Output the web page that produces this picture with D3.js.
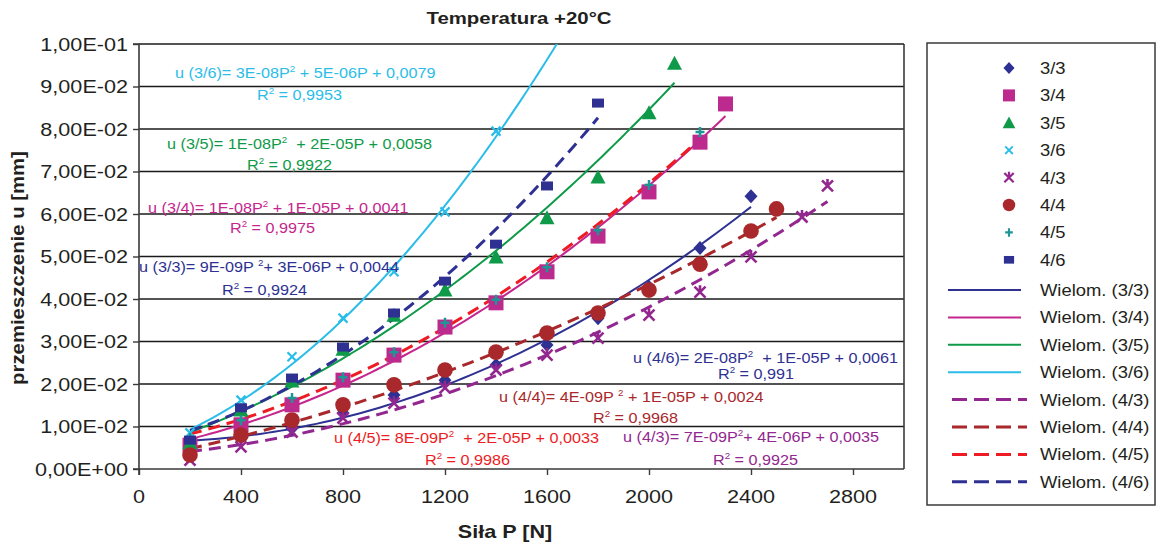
<!DOCTYPE html>
<html><head><meta charset="utf-8">
<script src="https://cdn.jsdelivr.net/npm/d3@7"></script>
<style>
body{margin:0;background:#fff}
text{font-family:"Liberation Sans",Arial,Helvetica,sans-serif;white-space:pre}
</style>
</head><body>
<svg id="c" width="1157" height="542"></svg>
<script>
// ---------- DATA ----------
const seriesNames = ["3/3","3/4","3/5","3/6","4/3","4/4","4/5","4/6"];
const P33 = [200,400,600,800,1000,1200,1400,1600,1800,2000,2200,2400];
const u33 = [0.0054,0.0075,0.0096,0.0132,0.0174,0.0209,0.0245,0.0292,0.0355,0.0428,0.0520,0.0642];
const P34 = [200,400,600,800,1000,1200,1400,1600,1800,2000,2200,2300];
const u34 = [0.0056,0.0104,0.0151,0.0209,0.0268,0.0334,0.0391,0.0464,0.0548,0.0652,0.0769,0.0859];
const P35 = [200,400,600,800,1000,1200,1400,1600,1800,2000,2100];
const u35 = [0.0061,0.0139,0.0207,0.0282,0.0362,0.0421,0.0499,0.0591,0.0687,0.0838,0.0955];
const P36 = [200,400,600,800,1000,1200,1400];
const u36 = [0.0085,0.0162,0.0264,0.0355,0.0464,0.0605,0.0795];
const P43 = [200,400,600,800,1000,1200,1400,1600,1800,2000,2200,2400,2600,2700];
const u43 = [0.0021,0.0052,0.0087,0.0120,0.0155,0.0191,0.0233,0.0268,0.0308,0.0362,0.0416,0.0499,0.0593,0.0666];
const P44 = [200,400,600,800,1000,1200,1400,1600,1800,2000,2200,2400,2500];
const u44 = [0.0033,0.0080,0.0115,0.0151,0.0198,0.0233,0.0275,0.0320,0.0367,0.0421,0.0482,0.0560,0.0612];
const P45 = [200,400,600,800,1000,1200,1400,1600,1800,2000,2200];
const u45 = [0.0073,0.0115,0.0167,0.0216,0.0275,0.0344,0.0398,0.0475,0.0562,0.0668,0.0793];
const P46 = [200,400,600,800,1000,1200,1400,1600,1800];
const u46 = [0.0068,0.0144,0.0214,0.0287,0.0367,0.0442,0.0529,0.0666,0.0861];
// trendline range end (Excel trendline forecast), in N
const trendEnd = [2400,2300,2100,1680,2700,2500,2200,1800];

const xTicks = [0,400,800,1200,1600,2000,2400,2800];
const yTicks = [0,0.01,0.02,0.03,0.04,0.05,0.06,0.07,0.08,0.09,0.10];
const yTickLabels = ["0,00E+00","1,00E-02","2,00E-02","3,00E-02","4,00E-02","5,00E-02","6,00E-02","7,00E-02","8,00E-02","9,00E-02","1,00E-01"];

const eqPre  = ["u (3/3)= 9E-09P ","u (3/4)= 1E-08P","u (3/5)= 1E-08P","u (3/6)= 3E-08P","u (4/3)= 7E-09P","u (4/4)= 4E-09P ","u (4/5)= 8E-09P","u (4/6)= 2E-08P"];
const eqPost = ["+ 3E-06P + 0,0044"," + 1E-05P + 0,0041","  + 2E-05P + 0,0058"," + 5E-06P + 0,0079","+ 4E-06P + 0,0035"," + 1E-05P + 0,0024","  + 2E-05P + 0,0033","  + 1E-05P + 0,0061"];
const r2Vals = ["0,9924","0,9975","0,9922","0,9953","0,9925","0,9968","0,9986","0,991"];

const title = "Temperatura +20°C";
const xTitle = "Siła P [N]";
const yTitle = "przemieszczenie u [mm]";
const trendPrefix = "Wielom. ";

// ---------- BUILD ----------
const Ps = [P33,P34,P35,P36,P43,P44,P45,P46];
const Us = [u33,u34,u35,u36,u43,u44,u45,u46];
const series = seriesNames.map((n,i)=>({name:n, pts:Ps[i].map((p,j)=>({P:p,u:Us[i][j]})), end:trendEnd[i]}));

const markerColor = ["#2E3192","#BD2A8D","#0E9A48","#2BBDE8","#92278F","#A8282B","#1E9696","#2E3192"];
const lineColor   = ["#2E3192","#C4268E","#0E9A48","#2BBDE8","#92278F","#A8282B","#ED1C24","#2E3192"];
const eqColor     = ["#2E3192","#C4268E","#0E9A48","#2BBDE8","#92278F","#A8282B","#ED1C24","#2E3192"];
const markerType  = ["diamond","square","triangle","xthin","star","circle","plus","rect"];

const L=139, R=904, T=44, B=469;
const x = d3.scaleLinear().domain([0,3000]).range([L,R]);
const y = d3.scaleLinear().domain([0,0.1]).range([B,T]);

const svg = d3.select("#c");
svg.append("rect").attr("width",1157).attr("height",542).attr("fill","#fff");

function stext(parent, px, py, str, o){
  const g = parent.append("g").attr("transform",`translate(${px},${py}) scale(${o.sx||1},1)`);
  const t = g.append("text").attr("x",0).attr("y",0)
    .attr("font-size",o.size).attr("font-weight",o.weight||"normal")
    .attr("text-anchor",o.anchor||"start").attr("fill",o.fill||"#231f20");
  t.text(str);
  return t;
}

// grid
svg.append("g").selectAll("line").data(yTicks.slice(1)).join("line")
  .attr("x1",L).attr("x2",R).attr("y1",d=>y(d)).attr("y2",d=>y(d))
  .attr("stroke","#1a1a1a").attr("stroke-width",1.4);
svg.append("line").attr("x1",R).attr("x2",R).attr("y1",T).attr("y2",B)
  .attr("stroke","#3a3a3a").attr("stroke-width",1.6);

// axes
const yAx = svg.append("g").attr("transform",`translate(${L},0)`)
  .call(d3.axisLeft(y).tickValues(yTicks).tickSize(6).tickFormat(""));
const xAx = svg.append("g").attr("transform",`translate(0,${B})`)
  .call(d3.axisBottom(x).tickValues(xTicks).tickSize(6).tickFormat(""));
[yAx,xAx].forEach(a=>{
  a.select(".domain").attr("stroke","#3a3a3a").attr("stroke-width",1.6);
  a.selectAll(".tick line").attr("stroke","#3a3a3a").attr("stroke-width",1.4);
});
yAx.select(".domain").attr("d",`M-6,${B}H0V${T}H-6`);
xAx.select(".domain").attr("d",`M${L},6V0H${R}`);

yTicks.forEach((v,i)=>stext(svg,128,y(v)+6.5,yTickLabels[i],{size:18,anchor:"end",sx:1.2}));
xTicks.forEach(v=>stext(svg,x(v),503,String(v),{size:18,anchor:"middle",sx:1.2}));

stext(svg,505,538,xTitle,{size:18,weight:"bold",anchor:"middle",sx:1.2});
stext(svg,519,24,title,{size:17,weight:"bold",anchor:"middle",sx:1.2});
svg.append("g").attr("transform","translate(24,268) rotate(-90) scale(1.13,1)")
  .append("text").attr("text-anchor","middle").attr("font-size",18).attr("font-weight","bold")
  .attr("fill","#231f20").text(yTitle);

// ---------- trend fit (least-squares quadratic, as Excel "Wielom.") ----------
function quadFit(pts){
  let s=[0,0,0,0,0], t=[0,0,0];
  pts.forEach(p=>{const X=p.P/1000; let xp=1;
    for(let k=0;k<5;k++){s[k]+=xp; if(k<3) t[k]+=xp*p.u; xp*=X;}});
  const M=[[s[0],s[1],s[2]],[s[1],s[2],s[3]],[s[2],s[3],s[4]]];
  const det=m=>m[0][0]*(m[1][1]*m[2][2]-m[1][2]*m[2][1])-m[0][1]*(m[1][0]*m[2][2]-m[1][2]*m[2][0])+m[0][2]*(m[1][0]*m[2][1]-m[1][1]*m[2][0]);
  const D=det(M);
  const c=[0,1,2].map(k=>{const m=M.map((r,i)=>r.map((v,j)=>j===k?t[i]:v)); return det(m)/D;});
  return P=>{const X=P/1000; return c[0]+c[1]*X+c[2]*X*X;};
}

svg.append("clipPath").attr("id","clip").append("rect").attr("x",L).attr("y",T).attr("width",R-L).attr("height",B-T);
const lineGen = d3.line().x(d=>x(d.P)).y(d=>y(d.u));
const trendG = svg.append("g").attr("clip-path","url(#clip)");

// ---------- markers ----------
function drawMarker(g, type, cx, cy, col, scale){
  const s = scale||1;
  const gg = g.append("g").attr("transform",`translate(${cx},${cy}) scale(${s})`);
  switch(type){
    case "diamond": gg.append("path").attr("d","M0,-7L6.5,0L0,7L-6.5,0Z").attr("fill",col); break;
    case "square": gg.append("rect").attr("x",-7.5).attr("y",-7.5).attr("width",15).attr("height",15).attr("fill",col); break;
    case "triangle": gg.append("path").attr("d","M0,-7.5L7.5,6.5L-7.5,6.5Z").attr("fill",col); break;
    case "xthin": gg.append("path").attr("d","M-4.5,-4.5L4.5,4.5M-4.5,4.5L4.5,-4.5").attr("stroke",col).attr("stroke-width",2.2).attr("fill","none"); break;
    case "star": gg.append("path").attr("d","M-5.5,-5.5L5.5,5.5M-5.5,5.5L5.5,-5.5M0,-7V0").attr("stroke",col).attr("stroke-width",2.6).attr("fill","none"); break;
    case "circle": gg.append("circle").attr("r",7.8).attr("fill",col); break;
    case "plus": gg.append("path").attr("d","M-4.5,0H4.5M0,-5V5").attr("stroke",col).attr("stroke-width",2.5).attr("fill","none"); break;
    case "rect": gg.append("rect").attr("x",-6).attr("y",-4.5).attr("width",12).attr("height",9).attr("fill",col); break;
  }
}

const markG = svg.append("g");
series.forEach((s,i)=>{
  s.pts.forEach(p=>drawMarker(markG, markerType[i], x(p.P), y(p.u), markerColor[i]));
});

// trendlines on top
series.forEach((s,i)=>{
  const f = quadFit(s.pts);
  const p0 = s.pts[0].P;
  const samples = d3.range(0,81).map(k=>{const P=p0+(s.end-p0)*k/80; return {P,u:f(P)};});
  const path = trendG.append("path").attr("d",lineGen(samples)).attr("fill","none")
    .attr("stroke",lineColor[i]);
  if(i<4) path.attr("stroke-width",2);
  else path.attr("stroke-width",3).attr("stroke-dasharray","12,7");
});

// ---------- equations ----------
const eqPos = [[139,272,222,295],[148,213,230,233],[167,149,247,170],[175,78,257,100],
               [623,442,713,465],[499,402,593,423],[334,443,425,465],[633,363,718,379]];
function eqText(px,py,pre,post,col){
  const g = svg.append("g").attr("transform",`translate(${px},${py}) scale(1.08,1)`);
  const t = g.append("text").attr("font-size",15).attr("fill",col);
  t.append("tspan").text(pre);
  t.append("tspan").attr("font-size",9).attr("dy",-6).text("2");
  t.append("tspan").attr("dy",6).text(post);
}
seriesNames.forEach((n,i)=>{
  const p = eqPos[i];
  eqText(p[0],p[1],eqPre[i],eqPost[i],eqColor[i]);
  eqText(p[2],p[3],"R"," = "+r2Vals[i],eqColor[i]);
});

// ---------- legend ----------
svg.append("rect").attr("x",927).attr("y",43).attr("width",228).attr("height",462)
  .attr("fill","#fff").attr("stroke","#3a3a3a").attr("stroke-width",1.5);
seriesNames.forEach((n,i)=>{
  const ly = 68 + i*27.4;
  drawMarker(svg, markerType[i], 1009, ly, markerColor[i], i===1||i===5?0.8:0.85);
  stext(svg,1040,ly+6,n,{size:16,sx:1.15});
});
seriesNames.forEach((n,i)=>{
  const ly = 290 + i*27.4;
  const ln = svg.append("line").attr("y1",ly).attr("y2",ly).attr("stroke",lineColor[i]);
  if(i<4) ln.attr("x1",948).attr("x2",1021).attr("stroke-width",2);
  else ln.attr("x1",952).attr("x2",1027).attr("stroke-width",3).attr("stroke-dasharray","15,7");
  stext(svg,1040,ly+6,trendPrefix+"("+n+")",{size:16,sx:1.15});
});
</script>
</body></html>
